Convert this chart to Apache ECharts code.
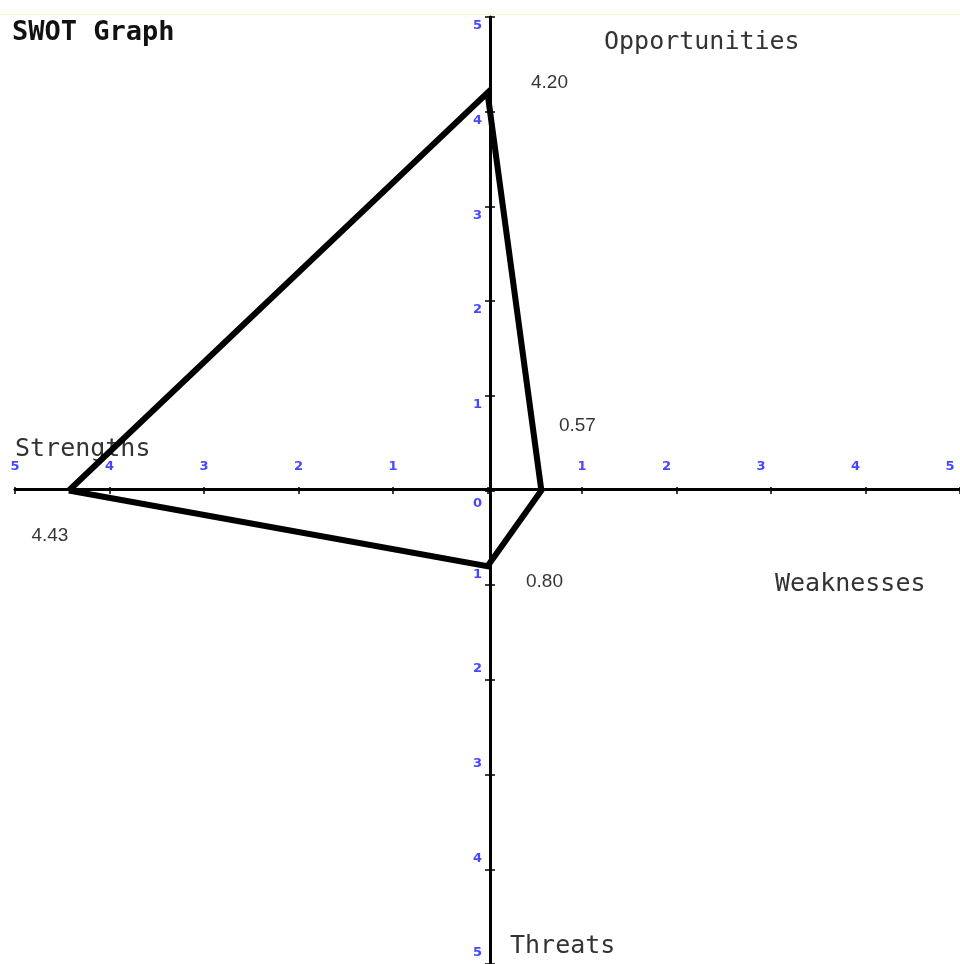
<!DOCTYPE html>
<html>
<head>
<meta charset="utf-8">
<script src="https://cdn.jsdelivr.net/npm/echarts@6/dist/echarts.min.js"></script>
<style>
  * { margin: 0; padding: 0; }
  html, body { width: 960px; height: 964px; background: #fff; }
  #chart { width: 960px; height: 964px; }
</style>
</head>
<body>
<div id="chart"></div>
<script>
// SWOT factors, one per half-axis
const factors = ['Strengths', 'Opportunities', 'Weaknesses', 'Threats']
const scores = [4.43, 4.20, 0.57, 0.80]
// which way each factor points: [x sign, y sign]
const directions = [[-1, 0], [0, 1], [1, 0], [0, -1]]
const tickValues = [-5, -4, -3, -2, -1, 0, 1, 2, 3, 4, 5]

const points = scores.map((s, i) => [directions[i][0] * s, directions[i][1] * s])
const polygon = points.concat([points[0]])

// where the value text sits next to each corner
const labelOffsets = [[-19, 45], [62, -10], [36, -65], [57, 16]]

const blue = '#4747ff'
const mono = '"DejaVu Sans Mono", monospace'
const tickFont = { color: blue, fontSize: 13, fontWeight: 'bold', fontFamily: 'Verdana, "DejaVu Sans"' }

// grid is 950x950, so the middle sits 475px in from every edge
const half = 475

const chart = echarts.init(document.getElementById('chart'))

const baseAxis = {
  type: 'value',
  min: tickValues[0],
  max: tickValues[tickValues.length - 1],
  interval: 1,
  offset: -half,
  splitLine: { show: false },
  axisLine: { onZero: false, lineStyle: { color: '#000', width: 3 } },
  axisTick: { length: 5, lineStyle: { color: '#000', width: 1.5 } }
}

chart.setOption({
  animation: false,
  grid: { left: 15, top: 17, width: 950, height: 950 },
  xAxis: [
    {
      ...baseAxis,
      position: 'bottom',
      axisLabel: {
        inside: true,
        margin: 16,
        formatter: v => v === 0 ? '' : (v > 1 ? '{r|' + Math.abs(v) + '}' : '{n|' + Math.abs(v) + '}'),
        rich: {
          n: { ...tickFont },
          r: { ...tickFont, padding: [0, 20, 0, 0] }
        }
      }
    },
    { ...baseAxis, position: 'top', axisLine: { show: false }, axisLabel: { show: false } }
  ],
  yAxis: [
    {
      ...baseAxis,
      position: 'left',
      axisLabel: {
        margin: 8,
        formatter: v => v > 0 ? '{hi|' + v + '}' : (v < 0 ? '{lo|' + Math.abs(v) + '}' : '{z|0}'),
        rich: {
          hi: { ...tickFont, padding: [18, 0, 0, 0] },
          lo: { ...tickFont, padding: [0, 0, 22, 0] },
          z: { ...tickFont, padding: [26, 0, 0, 0] }
        }
      }
    },
    { ...baseAxis, position: 'right', axisLine: { show: false }, axisLabel: { show: false } }
  ],
  series: [
    {
      type: 'line',
      data: polygon,
      symbol: 'none',
      lineStyle: { color: '#000', width: 6, join: 'miter' },
      z: 3
    },
    {
      type: 'scatter',
      symbolSize: 1,
      itemStyle: { color: 'rgba(0,0,0,0)' },
      data: points.map((p, i) => ({
        value: p,
        label: {
          show: true,
          position: 'inside',
          offset: labelOffsets[i],
          formatter: scores[i].toFixed(2),
          color: '#000',
          fontSize: 19,
          fontFamily: '"Liberation Sans", Arial, sans-serif'
        }
      }))
    }
  ],
  graphic: [
    { type: 'line', shape: { x1: 0, y1: 14.5, x2: 960, y2: 14.5 }, style: { stroke: '#fff5cc', lineWidth: 1 } },
    { type: 'text', left: 12, top: 19, style: { text: 'SWOT Graph', font: 'bold 27px ' + mono, fill: '#111' } },
    { type: 'text', left: 604, top: 30, style: { text: factors[1], font: '25px ' + mono, fill: '#333' } },
    { type: 'text', left: 15, top: 437, style: { text: factors[0], font: '25px ' + mono, fill: '#333' } },
    { type: 'text', left: 775, top: 572, style: { text: factors[2], font: '25px ' + mono, fill: '#333' } },
    { type: 'text', left: 510, top: 934, style: { text: factors[3], font: '25px ' + mono, fill: '#333' } }
  ]
})
</script>
</body>
</html>
